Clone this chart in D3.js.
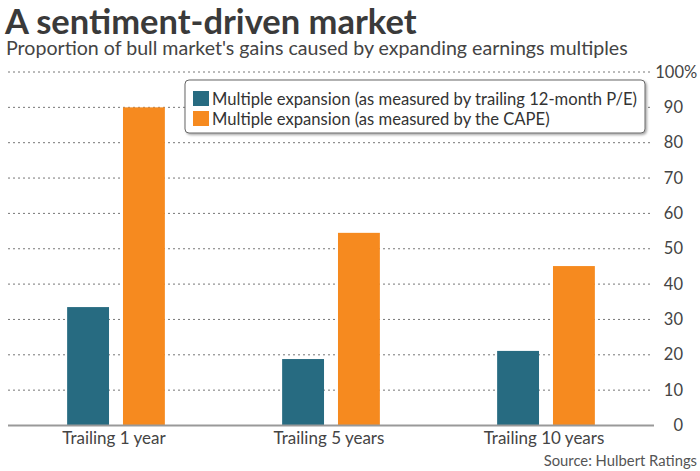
<!DOCTYPE html>
<html>
<head>
<meta charset="utf-8">
<script src="https://cdn.jsdelivr.net/npm/d3@7"></script>
<style>
  body { margin: 0; background: #fff; }
  svg { font-family: Lato, "Open Sans", sans-serif; }
</style>
</head>
<body>
<div id="chart"></div>
<script>
const categories = ["Trailing 1 year", "Trailing 5 years", "Trailing 10 years"];
const seriesNames = [
  "Multiple expansion (as measured by trailing 12-month P/E)",
  "Multiple expansion (as measured by the CAPE)"
];
const trailingPE = [33.5, 18.8, 21.1];
const cape = [90, 54.5, 45.1];
const yTicks = [0, 10, 20, 30, 40, 50, 60, 70, 80, 90, 100];
const colors = ["#276b81", "#f68a1f"];

const width = 700;
const height = 471;

const svg = d3.select("#chart").append("svg")
  .attr("width", width)
  .attr("height", height);

// title block
svg.append("text")
  .attr("x", 5).attr("y", 34)
  .attr("font-size", 34.5).attr("font-weight", 700)
  .attr("fill", "#3a3a3a")
  .text("A sentiment-driven market");

svg.append("text")
  .attr("x", 6).attr("y", 55)
  .attr("font-size", 19.6)
  .attr("fill", "#444")
  .text("Proportion of bull market's gains caused by expanding earnings multiples");

const x0 = d3.scaleBand().domain(categories).range([8.5, 653.5]);
const x1 = d3.scaleBand().domain([0, 1]).range([0, x0.bandwidth()]).paddingInner(0.25).paddingOuter(1.05);
const y = d3.scaleLinear().domain([0, 100]).range([425.5, 72]);

// gridlines
svg.append("g").selectAll("line")
  .data(yTicks.filter(d => d > 0))
  .enter().append("line")
  .attr("x1", 8).attr("x2", 653)
  .attr("y1", d => y(d)).attr("y2", d => y(d))
  .attr("stroke", "#777")
  .attr("stroke-width", 1)
  .attr("stroke-dasharray", "2,3");

// y tick labels on the right
const yLabels = svg.append("g")
  .attr("font-size", 16.5)
  .attr("fill", "#444");
yLabels.selectAll("text.num")
  .data(yTicks)
  .enter().append("text")
  .attr("class", "num")
  .attr("x", d => d === 100 ? 684 : 683)
  .attr("y", d => y(d) + 5.5)
  .attr("text-anchor", "end")
  .text(d => d);
yLabels.append("text")
  .attr("x", 684).attr("y", y(100) + 5.5)
  .text("%");

// bars
const groups = svg.append("g").selectAll("g")
  .data(categories)
  .enter().append("g")
  .attr("transform", d => `translate(${x0(d)},0)`);

groups.selectAll("rect")
  .data((d, i) => [trailingPE[i], cape[i]])
  .enter().append("rect")
  .attr("x", (d, j) => x1(j))
  .attr("width", x1.bandwidth())
  .attr("y", d => y(d))
  .attr("height", d => y(0) - y(d))
  .attr("fill", (d, j) => colors[j]);

// baseline
svg.append("line")
  .attr("x1", 8).attr("x2", 654)
  .attr("y1", y(0)).attr("y2", y(0))
  .attr("stroke", "#999")
  .attr("stroke-width", 2);

// category labels
svg.append("g").selectAll("text")
  .data(categories)
  .enter().append("text")
  .attr("x", d => x0(d) + x0.bandwidth() / 2 - 2)
  .attr("y", 444)
  .attr("text-anchor", "middle")
  .attr("font-size", 17)
  .attr("fill", "#444")
  .text(d => d);

// source
svg.append("text")
  .attr("x", 697).attr("y", 466)
  .attr("text-anchor", "end")
  .attr("font-size", 14.8)
  .attr("fill", "#555")
  .text("Source: Hulbert Ratings");

// legend
const defs = svg.append("defs");
const filter = defs.append("filter").attr("id", "shadow")
  .attr("x", "-5%").attr("y", "-20%").attr("width", "110%").attr("height", "150%");
filter.append("feDropShadow")
  .attr("dx", 1.5).attr("dy", 1.5).attr("stdDeviation", 1.2)
  .attr("flood-color", "#000").attr("flood-opacity", 0.35);

const legend = svg.append("g").attr("transform", "translate(185,80)");
legend.append("rect")
  .attr("width", 460).attr("height", 53)
  .attr("rx", 4)
  .attr("fill", "#fff")
  .attr("stroke", "#666")
  .attr("stroke-width", 1)
  .attr("filter", "url(#shadow)");

const items = legend.selectAll("g.item")
  .data(seriesNames)
  .enter().append("g")
  .attr("class", "item")
  .attr("transform", (d, i) => `translate(8,${11 + i * 20})`);
items.append("rect")
  .attr("width", 16).attr("height", 15)
  .attr("fill", (d, i) => colors[i]);
items.append("text")
  .attr("x", 19).attr("y", 13.5)
  .attr("font-size", 16.6)
  .attr("fill", "#333")
  .text(d => d);
</script>
</body>
</html>
